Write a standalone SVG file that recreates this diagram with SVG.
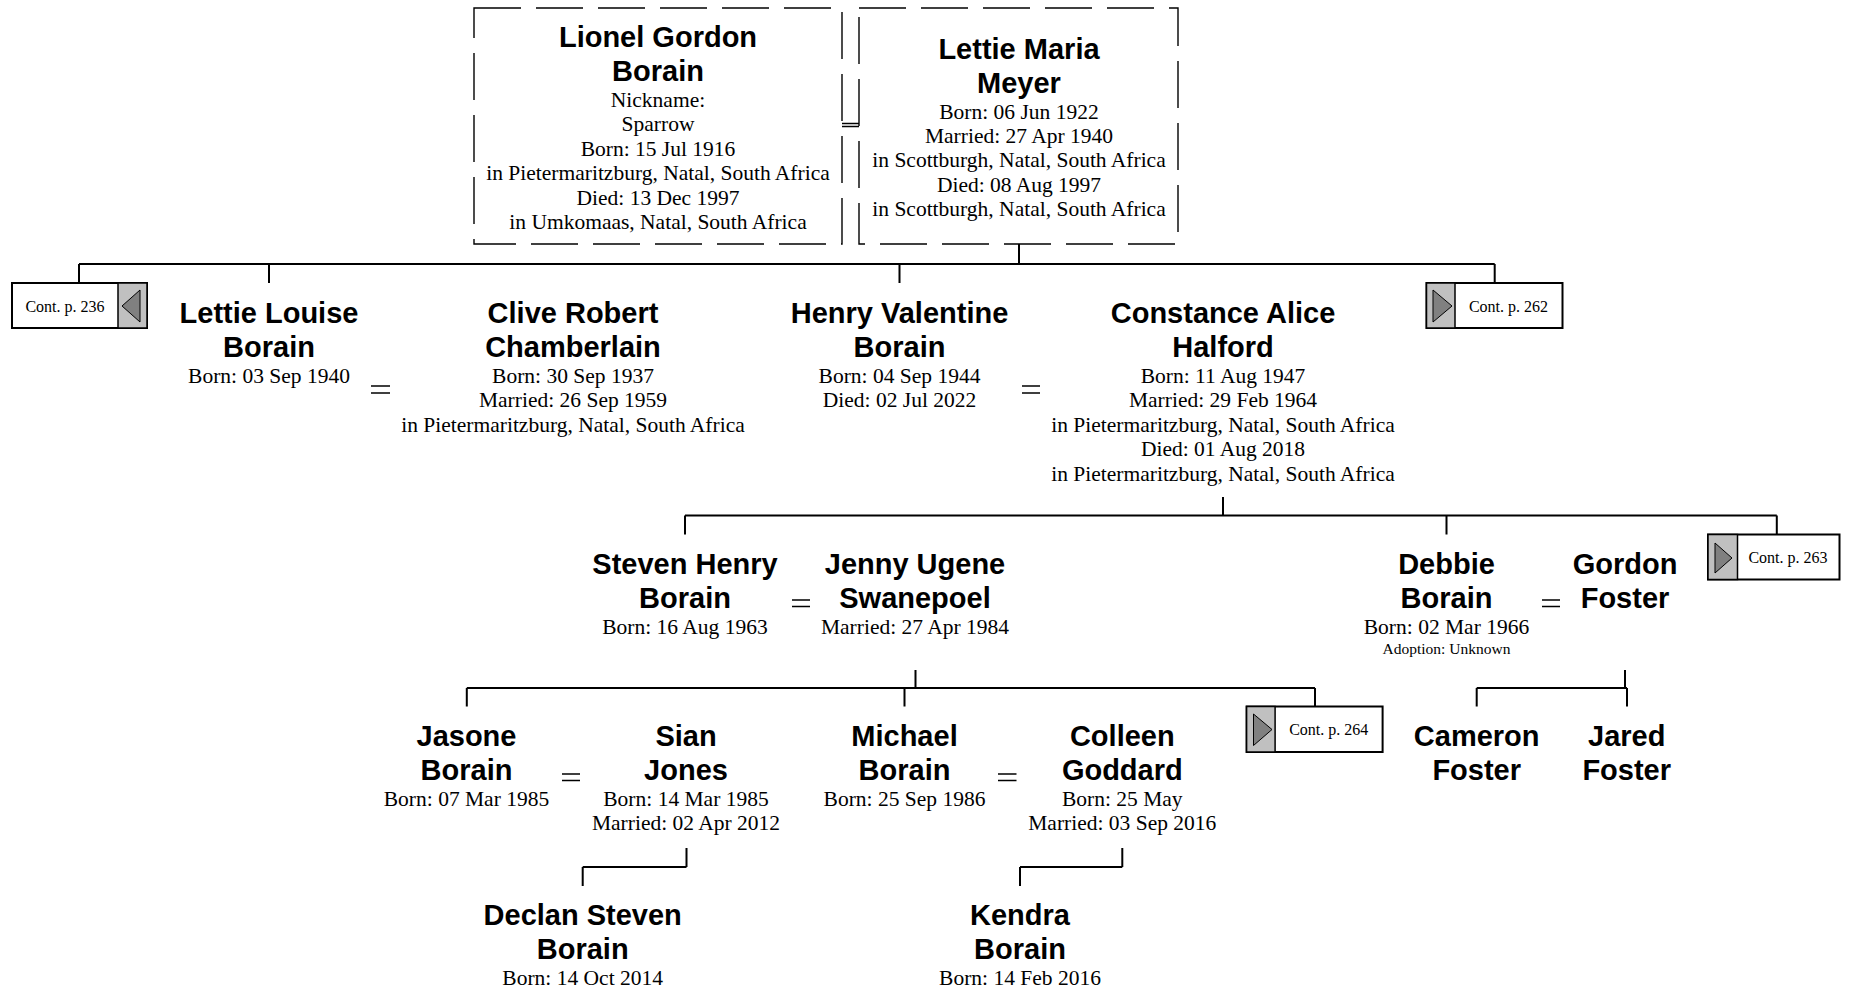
<svg xmlns="http://www.w3.org/2000/svg" width="1851" height="988" viewBox="0 0 1851 988">
<style>
.n{font-family:"Liberation Sans",Arial,sans-serif;font-weight:bold;font-size:29px;fill:#000;text-anchor:middle}
.d{font-family:"Liberation Serif","Times New Roman",serif;font-size:21.5px;fill:#000;text-anchor:middle}
.s{font-family:"Liberation Serif","Times New Roman",serif;font-size:15.5px;fill:#000;text-anchor:middle}
.ct{font-family:"Liberation Serif","Times New Roman",serif;font-size:16px;fill:#000;text-anchor:middle}
.c{fill:none;stroke:#000;stroke-width:2}
.eq{fill:none;stroke:#000;stroke-width:1.6}
.box{fill:#fff;stroke:#000;stroke-width:1.4;stroke-dasharray:47 15}
.cb{fill:#fff;stroke:#000;stroke-width:2}
.gr{fill:#c0c0c0;stroke:#000;stroke-width:1.5}
.tri{fill:#808080;stroke:#000;stroke-width:1}
</style>
<rect width="1851" height="988" fill="#fff"/>
<g id="connectors">
<path class="eq" d="M842 123.5H859M842 126.5H859"/>
<path class="c" d="M1019 244V264M79 264H1494.7M79 264V283M269 264V283M899.5 264V283M1494.7 264V283"/>
<path class="eq" d="M371 386H390M371 393H390M1022 386H1040M1022 393H1040"/>
<path class="c" d="M1223 497V515.5M685 515.5H1776.8M685 515.5V534.5M1446.5 515.5V534.5M1776.8 515.5V534.5"/>
<path class="eq" d="M792 600H810M792 606.5H810M1542 600H1560M1542 606.5H1560"/>
<path class="c" d="M915.5 670V688M466.8 688H1315M466.8 688V706.5M904.5 688V706.5M1315 688V706.5"/>
<path class="c" d="M1625 670V688M1476.7 688H1627M1476.7 688V706.5M1627 688V706.5"/>
<path class="eq" d="M562 774H580M562 780.5H580M998 774H1016.5M998 780.5H1016.5"/>
<path class="c" d="M686.5 848V867M582.7 867H686.5M582.7 867V886"/>
<path class="c" d="M1122.3 848V867M1020 867H1122.3M1020 867V886"/>
</g>
<g id="n-lionel">
<rect class="box" x="474" y="8" width="368" height="236"/>
<text class="n" x="658" y="47">Lionel Gordon</text>
<text class="n" x="658" y="81">Borain</text>
<text class="d" x="658" y="107">Nickname:</text>
<text class="d" x="658" y="131.4">Sparrow</text>
<text class="d" x="658" y="155.8">Born: 15 Jul 1916</text>
<text class="d" x="658" y="180.2">in Pietermaritzburg, Natal, South Africa</text>
<text class="d" x="658" y="204.6">Died: 13 Dec 1997</text>
<text class="d" x="658" y="229">in Umkomaas, Natal, South Africa</text>
</g>
<g id="n-lettie-maria">
<rect class="box" x="859" y="8" width="319" height="236"/>
<text class="n" x="1019" y="58.5">Lettie Maria</text>
<text class="n" x="1019" y="92.5">Meyer</text>
<text class="d" x="1019" y="118.5">Born: 06 Jun 1922</text>
<text class="d" x="1019" y="142.9">Married: 27 Apr 1940</text>
<text class="d" x="1019" y="167.3">in Scottburgh, Natal, South Africa</text>
<text class="d" x="1019" y="191.7">Died: 08 Aug 1997</text>
<text class="d" x="1019" y="216.1">in Scottburgh, Natal, South Africa</text>
</g>
<g id="cont-236">
<rect class="cb" x="12" y="283" width="135" height="45"/>
<rect class="gr" x="118" y="283" width="29" height="45"/>
<polygon class="tri" points="122,306 140,290 140,322"/>
<text class="ct" x="65" y="311.5">Cont. p. 236</text>
</g>
<g id="n-lettie-louise">
<text class="n" x="269" y="323">Lettie Louise</text>
<text class="n" x="269" y="357">Borain</text>
<text class="d" x="269" y="383">Born: 03 Sep 1940</text>
</g>
<g id="n-clive">
<text class="n" x="573" y="323">Clive Robert</text>
<text class="n" x="573" y="357">Chamberlain</text>
<text class="d" x="573" y="383">Born: 30 Sep 1937</text>
<text class="d" x="573" y="407.4">Married: 26 Sep 1959</text>
<text class="d" x="573" y="431.8">in Pietermaritzburg, Natal, South Africa</text>
</g>
<g id="n-henry">
<text class="n" x="899.5" y="323">Henry Valentine</text>
<text class="n" x="899.5" y="357">Borain</text>
<text class="d" x="899.5" y="383">Born: 04 Sep 1944</text>
<text class="d" x="899.5" y="407.4">Died: 02 Jul 2022</text>
</g>
<g id="n-constance">
<text class="n" x="1223" y="323">Constance Alice</text>
<text class="n" x="1223" y="357">Halford</text>
<text class="d" x="1223" y="383">Born: 11 Aug 1947</text>
<text class="d" x="1223" y="407.4">Married: 29 Feb 1964</text>
<text class="d" x="1223" y="431.8">in Pietermaritzburg, Natal, South Africa</text>
<text class="d" x="1223" y="456.2">Died: 01 Aug 2018</text>
<text class="d" x="1223" y="480.6">in Pietermaritzburg, Natal, South Africa</text>
</g>
<g id="cont-262">
<rect class="cb" x="1426.5" y="283" width="136" height="45"/>
<rect class="gr" x="1426.5" y="283" width="28.5" height="45"/>
<polygon class="tri" points="1433,290 1433,322 1452,306"/>
<text class="ct" x="1508.5" y="311.5">Cont. p. 262</text>
</g>
<g id="n-steven">
<text class="n" x="685" y="574">Steven Henry</text>
<text class="n" x="685" y="608">Borain</text>
<text class="d" x="685" y="634">Born: 16 Aug 1963</text>
</g>
<g id="n-jenny">
<text class="n" x="915" y="574">Jenny Ugene</text>
<text class="n" x="915" y="608">Swanepoel</text>
<text class="d" x="915" y="634">Married: 27 Apr 1984</text>
</g>
<g id="n-debbie">
<text class="n" x="1446.5" y="574">Debbie</text>
<text class="n" x="1446.5" y="608">Borain</text>
<text class="d" x="1446.5" y="634">Born: 02 Mar 1966</text>
<text class="s" x="1446.5" y="653.5">Adoption: Unknown</text>
</g>
<g id="n-gordon">
<text class="n" x="1625" y="574">Gordon</text>
<text class="n" x="1625" y="608">Foster</text>
</g>
<g id="cont-263">
<rect class="cb" x="1708" y="534.5" width="131.5" height="45"/>
<rect class="gr" x="1708" y="534.5" width="29.5" height="45"/>
<polygon class="tri" points="1715,543 1715,573 1732,558"/>
<text class="ct" x="1788" y="563">Cont. p. 263</text>
</g>
<g id="n-jasone">
<text class="n" x="466.5" y="746">Jasone</text>
<text class="n" x="466.5" y="780">Borain</text>
<text class="d" x="466.5" y="806">Born: 07 Mar 1985</text>
</g>
<g id="n-sian">
<text class="n" x="686" y="746">Sian</text>
<text class="n" x="686" y="780">Jones</text>
<text class="d" x="686" y="806">Born: 14 Mar 1985</text>
<text class="d" x="686" y="830.4">Married: 02 Apr 2012</text>
</g>
<g id="n-michael">
<text class="n" x="904.5" y="746">Michael</text>
<text class="n" x="904.5" y="780">Borain</text>
<text class="d" x="904.5" y="806">Born: 25 Sep 1986</text>
</g>
<g id="n-colleen">
<text class="n" x="1122.3" y="746">Colleen</text>
<text class="n" x="1122.3" y="780">Goddard</text>
<text class="d" x="1122.3" y="806">Born: 25 May</text>
<text class="d" x="1122.3" y="830.4">Married: 03 Sep 2016</text>
</g>
<g id="cont-264">
<rect class="cb" x="1246.6" y="706.5" width="136" height="45.5"/>
<rect class="gr" x="1246.6" y="706.5" width="28.5" height="45.5"/>
<polygon class="tri" points="1253.5,714 1253.5,745.5 1272,729.5"/>
<text class="ct" x="1328.7" y="735">Cont. p. 264</text>
</g>
<g id="n-cameron">
<text class="n" x="1476.7" y="746">Cameron</text>
<text class="n" x="1476.7" y="780">Foster</text>
</g>
<g id="n-jared">
<text class="n" x="1626.7" y="746">Jared</text>
<text class="n" x="1626.7" y="780">Foster</text>
</g>
<g id="n-declan">
<text class="n" x="582.7" y="925">Declan Steven</text>
<text class="n" x="582.7" y="959">Borain</text>
<text class="d" x="582.7" y="985">Born: 14 Oct 2014</text>
</g>
<g id="n-kendra">
<text class="n" x="1020" y="925">Kendra</text>
<text class="n" x="1020" y="959">Borain</text>
<text class="d" x="1020" y="985">Born: 14 Feb 2016</text>
</g>
</svg>
